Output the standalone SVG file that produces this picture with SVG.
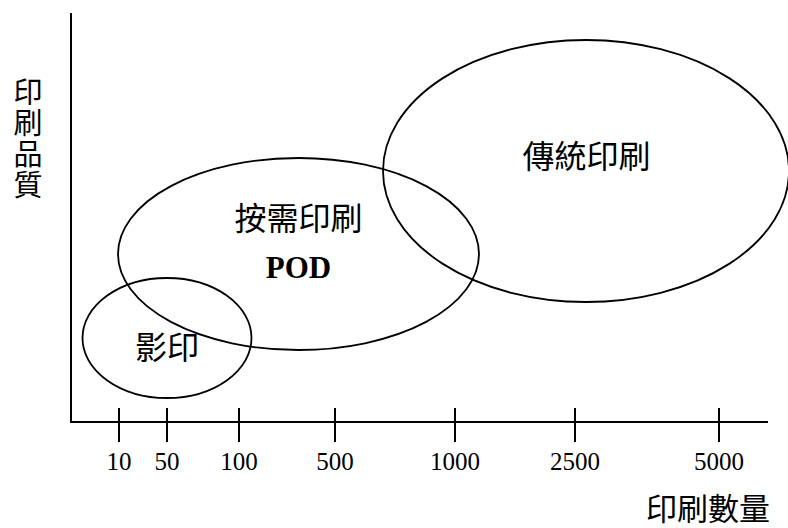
<svg xmlns="http://www.w3.org/2000/svg" width="788" height="528" viewBox="0 0 788 528">
<style>
.ax{stroke:#000;stroke-width:2;fill:none}
.el{stroke:#000;stroke-width:1.8;fill:none}
.cjk{font-family:"Noto Sans CJK TC","Noto Sans CJK SC",sans-serif;font-size:32px;fill:#000;text-anchor:middle}
.num{font-family:"Liberation Serif",serif;font-size:25px;fill:#000;text-anchor:middle}
.pod{font-family:"Liberation Serif",serif;font-size:31px;font-weight:bold;fill:#000;text-anchor:middle}
.vert{font-family:"Noto Sans CJK TC","Noto Sans CJK SC",sans-serif;font-size:29px;fill:#000;writing-mode:vertical-rl;text-anchor:start;letter-spacing:2px}
</style>
<rect width="788" height="528" fill="#fff"/>
<g id="axes">
<path class="ax" d="M71 13V422H768"/>
<path class="ax" d="M119 408V442M167 408V442M239 408V442M335 408V442M455 408V442M575 408V442M719 408V442"/>
<text class="num" x="119" y="470">10</text>
<text class="num" x="167" y="470">50</text>
<text class="num" x="239" y="470">100</text>
<text class="num" x="335" y="470">500</text>
<text class="num" x="455" y="470">1000</text>
<text class="num" x="575" y="470">2500</text>
<text class="num" x="719" y="470">5000</text>
<text class="cjk" style="font-size:31px" x="708" y="520">印刷數量</text>
<text class="vert" x="28" y="77">印刷品質</text>
</g>
<g id="copy">
<ellipse class="el" cx="167" cy="338" rx="84.5" ry="60"/>
<text class="cjk" x="167" y="359">影印</text>
</g>
<g id="pod">
<ellipse class="el" cx="298.5" cy="254" rx="180.5" ry="96"/>
<text class="cjk" x="298.5" y="230">按需印刷</text>
<text class="pod" x="298.5" y="278">POD</text>
</g>
<g id="traditional">
<ellipse class="el" cx="586" cy="171" rx="203" ry="131"/>
<text class="cjk" x="586.5" y="168">傳統印刷</text>
</g>
</svg>
